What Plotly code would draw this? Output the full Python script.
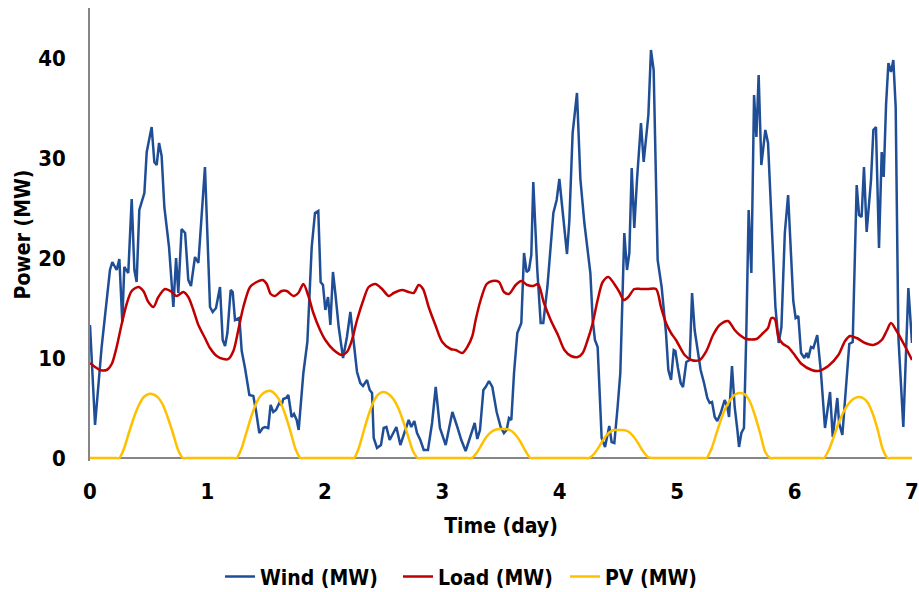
import plotly.graph_objects as go

# ---- data -------------------------------------------------------------
wind_day = [
    0.0, 0.043, 0.099, 0.17, 0.19, 0.227, 0.25, 0.275, 0.292, 0.326, 0.355, 0.378, 0.397, 0.42,
    0.463, 0.483, 0.525, 0.548, 0.568, 0.588, 0.61, 0.633, 0.673, 0.71, 0.733, 0.752, 0.78, 0.81,
    0.837, 0.86, 0.894, 0.923, 0.979, 1.022, 1.045, 1.073, 1.107, 1.13, 1.15, 1.17, 1.198, 1.215,
    1.235, 1.272, 1.292, 1.32, 1.357, 1.391, 1.414, 1.442, 1.471, 1.49, 1.518, 1.538, 1.561, 1.584,
    1.612, 1.632, 1.646, 1.669, 1.689, 1.717, 1.737, 1.76, 1.777, 1.817, 1.851, 1.888, 1.916, 1.944,
    1.964, 1.984, 2.004, 2.027, 2.047, 2.069, 2.089, 2.118, 2.155, 2.188, 2.217, 2.245, 2.274, 2.302,
    2.325, 2.359, 2.382, 2.402, 2.416, 2.444, 2.478, 2.501, 2.524, 2.552, 2.572, 2.609, 2.643, 2.665,
    2.694, 2.714, 2.736, 2.762, 2.785, 2.813, 2.842, 2.878, 2.913, 2.944, 2.98, 3.029, 3.086, 3.128,
    3.162, 3.199, 3.236, 3.276, 3.298, 3.321, 3.35, 3.369, 3.398, 3.426, 3.463, 3.497, 3.525, 3.548,
    3.568, 3.588, 3.611, 3.639, 3.673, 3.696, 3.718, 3.738, 3.758, 3.775, 3.809, 3.838, 3.86, 3.895,
    3.946, 3.974, 3.997, 4.062, 4.082, 4.11, 4.147, 4.176, 4.21, 4.232, 4.261, 4.281, 4.3, 4.323,
    4.337, 4.357, 4.386, 4.422, 4.442, 4.465, 4.493, 4.516, 4.55, 4.573, 4.593, 4.613, 4.635, 4.658,
    4.692, 4.715, 4.755, 4.777, 4.8, 4.834, 4.868, 4.905, 4.925, 4.948, 4.971, 4.985, 5.007, 5.03,
    5.05, 5.078, 5.107, 5.127, 5.149, 5.172, 5.2, 5.229, 5.257, 5.277, 5.297, 5.32, 5.342, 5.371,
    5.405, 5.427, 5.442, 5.467, 5.49, 5.513, 5.527, 5.547, 5.569, 5.589, 5.609, 5.632, 5.655, 5.675,
    5.694, 5.717, 5.751, 5.774, 5.808, 5.837, 5.865, 5.888, 5.917, 5.945, 5.989, 6.009, 6.032, 6.055,
    6.083, 6.103, 6.117, 6.14, 6.16, 6.193, 6.225, 6.259, 6.302, 6.325, 6.364, 6.379, 6.407, 6.435,
    6.466, 6.495, 6.529, 6.549, 6.571, 6.591, 6.614, 6.651, 6.671, 6.693, 6.719, 6.742, 6.759, 6.779,
    6.799, 6.821, 6.841, 6.861, 6.884, 6.926, 6.969, 7.0,
]
wind_mw = [
    13.3, 3.3, 11.1, 18.8, 19.6, 18.8, 19.9, 13.6, 19.1, 18.5, 25.9, 18.8, 17.6, 24.8,
    26.5, 30.6, 33.1, 29.6, 29.3, 31.5, 30.2, 25.1, 21.1, 15.1, 20.0, 16.5, 22.9, 22.5,
    17.8, 17.2, 20.1, 19.5, 29.1, 15.1, 14.6, 15.0, 17.1, 11.8, 11.2, 12.5, 16.8, 16.6,
    13.8, 14.0, 10.7, 9.0, 6.3, 6.2, 4.7, 2.5, 3.0, 3.1, 3.0, 5.3, 4.6, 4.8,
    5.5, 5.3, 5.9, 6.0, 6.3, 4.1, 4.4, 3.8, 2.8, 8.5, 11.6, 21.1, 24.5, 24.7,
    17.6, 17.3, 14.8, 16.1, 13.3, 18.6, 16.5, 13.1, 10.0, 12.1, 14.6, 11.8, 8.6, 7.5,
    7.2, 7.8, 6.8, 6.5, 2.0, 1.0, 1.3, 3.0, 3.1, 1.8, 2.3, 3.1, 1.3, 2.0,
    3.1, 3.8, 3.1, 3.7, 2.5, 1.8, 0.8, 0.8, 3.5, 7.1, 3.0, 1.3, 4.6, 3.1,
    1.8, 0.7, 2.1, 3.5, 1.9, 2.8, 6.8, 7.1, 7.7, 7.1, 4.6, 3.1, 2.5, 2.8,
    4.0, 3.8, 8.5, 12.5, 13.5, 20.5, 18.6, 18.8, 20.3, 27.6, 18.8, 13.5, 13.5, 17.1,
    24.5, 25.8, 27.9, 20.4, 23.7, 32.5, 36.5, 27.9, 23.5, 21.5, 18.5, 13.8, 11.8, 11.1,
    7.1, 2.0, 1.1, 3.2, 1.6, 1.5, 5.1, 8.5, 22.5, 18.8, 20.5, 29.0, 23.0, 27.8,
    33.5, 29.6, 34.3, 40.8, 38.8, 19.8, 17.1, 12.5, 8.8, 7.8, 10.8, 10.7, 9.0, 7.5,
    7.1, 9.6, 9.8, 16.5, 12.8, 11.1, 8.8, 7.5, 6.0, 5.5, 5.6, 4.1, 3.7, 4.5,
    5.8, 5.1, 4.1, 9.2, 5.1, 2.8, 1.1, 2.5, 3.0, 12.5, 24.8, 18.5, 36.3, 32.1,
    38.3, 29.3, 32.8, 31.5, 23.1, 15.1, 11.5, 13.1, 22.5, 26.3, 15.7, 14.0, 14.2, 10.5,
    10.0, 10.5, 10.0, 11.1, 11.0, 12.3, 8.5, 3.0, 6.6, 2.1, 6.0, 3.5, 2.3, 7.1,
    11.4, 11.6, 27.3, 24.3, 24.1, 29.1, 22.6, 27.8, 32.8, 33.1, 21.0, 30.6, 28.1, 35.3,
    39.5, 38.6, 39.8, 35.1, 12.1, 3.1, 17.0, 11.5,
]

load_day = [
    0.0, 0.043, 0.085, 0.142, 0.185, 0.227, 0.27, 0.312, 0.355, 0.412, 0.454, 0.497, 0.54, 0.582,
    0.639, 0.696, 0.738, 0.795, 0.837, 0.88, 0.923, 0.979, 1.022, 1.079, 1.136, 1.178, 1.221, 1.263,
    1.306, 1.363, 1.419, 1.471, 1.505, 1.539, 1.576, 1.632, 1.675, 1.732, 1.774, 1.817, 1.86, 1.902,
    1.959, 2.004, 2.075, 2.146, 2.188, 2.231, 2.274, 2.331, 2.373, 2.43, 2.487, 2.544, 2.586, 2.657,
    2.714, 2.756, 2.799, 2.836, 2.884, 2.941, 3.0, 3.071, 3.114, 3.171, 3.213, 3.256, 3.284, 3.327,
    3.378, 3.426, 3.483, 3.525, 3.568, 3.625, 3.673, 3.724, 3.775, 3.815, 3.866, 3.923, 3.985, 4.04,
    4.096, 4.153, 4.196, 4.238, 4.281, 4.323, 4.366, 4.414, 4.465, 4.508, 4.545, 4.584, 4.635, 4.692,
    4.749, 4.82, 4.862, 4.905, 4.948, 4.99, 5.064, 5.121, 5.192, 5.249, 5.306, 5.362, 5.433, 5.49,
    5.533, 5.589, 5.675, 5.732, 5.774, 5.803, 5.831, 5.865, 5.902, 5.945, 5.988, 6.06, 6.146, 6.202,
    6.287, 6.373, 6.43, 6.472, 6.529, 6.6, 6.671, 6.742, 6.784, 6.821, 6.869, 6.926, 6.983, 7.0,
]
load_mw = [
    9.5, 9.1, 8.8, 8.8, 9.4, 11.1, 13.4, 15.4, 16.7, 17.1, 16.7, 15.6, 15.1, 16.1,
    16.9, 16.6, 16.2, 16.6, 16.1, 14.8, 13.3, 12.0, 11.0, 10.2, 9.9, 9.9, 10.7, 12.8,
    15.1, 17.1, 17.6, 17.8, 17.4, 16.4, 16.2, 16.7, 16.7, 16.2, 16.5, 17.4, 16.2, 14.5,
    12.8, 11.8, 10.8, 10.3, 10.6, 11.8, 13.8, 15.9, 17.1, 17.4, 16.9, 16.2, 16.5, 16.8,
    16.6, 16.5, 17.3, 16.9, 15.1, 13.3, 11.6, 10.9, 10.8, 10.5, 11.1, 12.2, 13.8, 15.8,
    17.4, 17.7, 17.6, 16.6, 16.4, 17.3, 17.7, 17.3, 17.2, 17.4, 15.5, 13.8, 12.3, 10.8,
    10.2, 10.1, 10.5, 11.8, 13.5, 15.8, 17.6, 18.1, 17.4, 16.6, 15.8, 16.1, 16.9, 16.9,
    16.9, 16.9, 15.1, 13.5, 12.5, 11.8, 10.3, 9.8, 9.8, 10.7, 12.3, 13.3, 13.7, 12.8,
    12.3, 11.9, 11.9, 12.5, 13.0, 14.0, 13.9, 12.0, 11.4, 11.1, 10.5, 9.4, 8.8, 8.7,
    9.2, 10.3, 11.7, 12.2, 12.0, 11.5, 11.3, 11.8, 12.7, 13.5, 12.7, 11.5, 10.2, 9.8,
]

# PV output for daylight hours 07:00 ... 18:00 of each day (zero at night)
pv_daylight_hours = [7, 8, 9, 10, 11, 12, 13, 14, 15, 16, 17, 18]
pv_day0 = [1.0, 2.6, 4.1, 5.3, 6.1, 6.4, 6.35, 6.0, 5.2, 3.9, 2.4, 0.8]
pv_day1 = [1.0, 2.6, 4.2, 5.5, 6.3, 6.65, 6.7, 6.3, 5.5, 4.2, 2.6, 0.9]
pv_day2 = [1.1, 2.8, 4.4, 5.7, 6.4, 6.6, 6.4, 5.9, 5.0, 3.7, 2.2, 0.7]
pv_day3 = [0.5, 1.3, 2.1, 2.6, 2.85, 2.9, 2.9, 2.75, 2.3, 1.6, 0.7, 0.0]
pv_day4 = [0.4, 1.1, 1.9, 2.5, 2.8, 2.8, 2.8, 2.65, 2.2, 1.5, 0.7, 0.1]
pv_day5 = [0.9, 2.4, 3.9, 5.1, 5.9, 6.4, 6.5, 6.3, 5.5, 4.1, 2.4, 0.6]
pv_day6 = [0.8, 2.1, 3.5, 4.6, 5.4, 5.9, 6.1, 6.0, 5.5, 4.4, 2.8, 0.9]
pv_days = [pv_day0, pv_day1, pv_day2, pv_day3, pv_day4, pv_day5, pv_day6]

x_ticks = [0, 1, 2, 3, 4, 5, 6, 7]
y_ticks = [0, 10, 20, 30, 40]

# hourly PV series over the whole week
pv_hour_values = {}
for d, vals in enumerate(pv_days):
    for h, v in zip(pv_daylight_hours, vals):
        pv_hour_values[d * 24 + h] = v
pv_day = [h / 24 for h in range(7 * 24 + 1)]
pv_mw = [pv_hour_values.get(h, 0.0) for h in range(7 * 24 + 1)]

# ---- figure -----------------------------------------------------------
FONT = "DejaVu Sans Condensed, Liberation Sans Narrow, Arial Narrow, sans-serif"
TITLE_FONT = dict(size=21, family=FONT, color="black", weight="bold")
TICK_FONT = dict(size=22, family=FONT, color="black", weight="bold")

fig = go.Figure()
fig.add_trace(go.Scatter(x=wind_day, y=wind_mw, mode="lines", name="Wind (MW)",
                         legendwidth=133,
                         line=dict(color="#1F4E96", width=2.5)))
fig.add_trace(go.Scatter(x=load_day, y=load_mw, mode="lines", name="Load (MW)",
                         legendwidth=122,
                         line=dict(color="#C00000", width=2.5, shape="spline", smoothing=0.8)))
fig.add_trace(go.Scatter(x=pv_day, y=pv_mw, mode="lines", name="PV (MW)",
                         line=dict(color="#FFC000", width=2.5, shape="spline", smoothing=0.6)))

fig.update_layout(
    width=919, height=592,
    margin=dict(l=90, r=7, t=8, b=131, autoexpand=False),
    paper_bgcolor="white", plot_bgcolor="white",
    font=dict(family=FONT, color="black", size=21),
    showlegend=True,
    legend=dict(orientation="h", x=(220 - 90) / 822, xanchor="left", y=-0.256, yanchor="middle",
                font=TITLE_FONT, itemwidth=30, traceorder="normal",
                bgcolor="rgba(0,0,0,0)"),
)
fig.update_xaxes(
    range=[0, 7], tickvals=x_ticks, ticktext=[str(t) for t in x_ticks],
    showgrid=False, zeroline=False, showline=False, ticks="",
    tickfont=TICK_FONT,
    ticklabelstandoff=15,
    title=dict(text="Time (day)", font=TITLE_FONT, standoff=15),
)
fig.update_yaxes(
    range=[-0.3, 45], tickvals=y_ticks, ticktext=[str(t) for t in y_ticks],
    showgrid=False, zeroline=True, zerolinecolor="#868686", zerolinewidth=1.5,
    showline=True, linecolor="#868686", linewidth=1.5, ticks="",
    tickfont=TICK_FONT,
    ticklabelstandoff=18,
    title=dict(text="Power (MW)", font=TITLE_FONT, standoff=2),
)

fig.write_html("out.html")
